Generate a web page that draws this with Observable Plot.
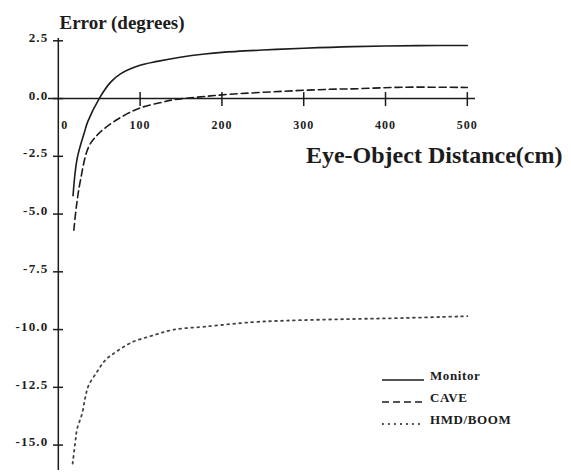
<!DOCTYPE html>
<html><head><meta charset="utf-8">
<script src="https://cdn.jsdelivr.net/npm/d3@7"></script>
<script src="https://cdn.jsdelivr.net/npm/@observablehq/plot@0.6"></script>
<style>
body{margin:0;background:#fff;}
#wrap{position:relative;width:571px;height:472px;}
#legend{position:absolute;left:0;top:0;pointer-events:none;}
#wrap svg g[aria-label="y-axis tick label"] text{letter-spacing:1.2px;}
#wrap svg g[aria-label="x-axis tick label"] text{letter-spacing:1px;}
</style></head><body><div id="wrap"></div>
<script>
// ---- data ----
const seriesNames = ["Monitor", "CAVE", "HMD/BOOM"];

const monitorDist = [18, 23, 32, 36, 50, 64, 76, 99, 121, 149, 179, 200, 250, 300, 360, 440, 500];
const monitorErr  = [-4.2, -2.6, -1.45, -1.0, 0, 0.71, 1.07, 1.43, 1.61, 1.79, 1.93, 2.0, 2.1, 2.18, 2.25, 2.29, 2.3];

const caveDist = [19, 22, 27, 37, 49, 70, 99, 127, 141, 182, 200, 250, 330, 360, 420, 500];
const caveErr  = [-5.7, -4.7, -3.55, -2.1, -1.53, -0.95, -0.42, -0.16, -0.05, 0.1, 0.16, 0.27, 0.4, 0.42, 0.49, 0.48];

const hmdDist = [17.5, 21, 23, 29, 33, 37, 47, 57, 70, 90, 115, 140, 180, 237, 280, 350, 420, 500];
const hmdErr  = [-15.8, -14.8, -14.3, -13.65, -12.93, -12.42, -11.85, -11.34, -10.98, -10.55, -10.26, -10.01, -9.87, -9.68, -9.61, -9.55, -9.5, -9.42];

const xTicks = [100, 200, 300, 400, 500];
const xZeroTick = [0];
const yTicks = [2.5, 0, -2.5, -5, -7.5, -10, -12.5, -15];
const titleText = "Error (degrees)";
const xLabelText = "Eye-Object Distance(cm)";

// ---- build table ----
const table = [];
[[monitorDist, monitorErr], [caveDist, caveErr], [hmdDist, hmdErr]].forEach(([ds, es], i) => {
  ds.forEach((d, j) => table.push({s: seriesNames[i], d, e: es[j]}));
});

// ---- layout ----
const W = 571, H = 472, mL = 48, mR = 96, mT = 38, mB = 2;
const xDomain = [-12, 510], yDomain = [-16.1, 2.6];
const yScale = Plot.scale({y: {domain: yDomain, range: [H - mB, mT]}});
const y0 = yScale.apply(0);
const yBottom = H - mB;
const ink = "#1c1c1c";
const serif = "'Liberation Serif', 'DejaVu Serif', serif";
const lineStyles = {
  "Monitor": {dash: "none", width: 1.6, color: ink},
  "CAVE": {dash: "7,4", width: 1.6, color: ink},
  "HMD/BOOM": {dash: "1.8,4.2", width: 1.8, color: "#444"}
};
const fmtY = d => (d < 0 ? "-" : "") + Math.abs(d).toFixed(1);

const lineMarks = seriesNames.map(s => Plot.line(table.filter(r => r.s === s), {
  x: "d", y: "e", curve: "catmull-rom",
  stroke: lineStyles[s].color, strokeWidth: lineStyles[s].width,
  strokeDasharray: lineStyles[s].dash
}));

const chart = Plot.plot({
  width: W, height: H,
  marginLeft: mL, marginRight: mR, marginTop: mT, marginBottom: mB,
  style: {fontFamily: serif, fontSize: "12px", fontWeight: "bold", background: "white", color: ink},
  x: {domain: xDomain},
  y: {domain: yDomain},
  marks: [
    Plot.ruleY([0], {stroke: ink, strokeWidth: 1.5}),
    Plot.ruleX([0], {stroke: ink, strokeWidth: 1.5}),
    // y ticks crossing the axis
    Plot.axisY({ticks: yTicks, tickSize: 10, dx: 15, tickFormat: () => "", label: null, stroke: ink, strokeWidth: 1.5}),
    // y labels
    Plot.axisY({ticks: yTicks, tickSize: 0, tickPadding: 0, dy: -3, tickFormat: fmtY, label: null, fontSize: 13, fill: ink}),
    // x ticks crossing the axis
    Plot.axisX({ticks: xTicks, anchor: "bottom", tickSize: 14, dy: (y0 - 6) - yBottom, tickFormat: () => "", label: null, stroke: ink, strokeWidth: 1.5}),
    // x labels
    Plot.axisX({ticks: xTicks, anchor: "bottom", tickSize: 0, tickPadding: 0, dy: (y0 + 22) - yBottom, tickFormat: d => String(d), label: null, fontSize: 12, fill: ink}),
    Plot.axisX({ticks: xZeroTick, anchor: "bottom", tickSize: 0, tickPadding: 0, dx: 3, dy: (y0 + 22) - yBottom, textAnchor: "start", tickFormat: d => String(d), label: null, fontSize: 12, fill: ink}),
    ...lineMarks,
    Plot.text([titleText], {frameAnchor: "top-left", text: d => d, textAnchor: "start", lineAnchor: "bottom", dx: 11, dy: -10, fontSize: 19, fill: ink}),
    Plot.text([xLabelText], {frameAnchor: "top-right", text: d => d, textAnchor: "end", lineAnchor: "middle", dx: 87, dy: 117, fontSize: 24, fill: ink})
  ]
});

const wrap = document.getElementById("wrap");
wrap.appendChild(chart);

// ---- legend overlay ----
const leg = d3.select(wrap).append("svg").attr("id", "legend").attr("width", W).attr("height", H);
seriesNames.forEach((s, i) => {
  const yy = 380 + i * 22;
  leg.append("line").attr("x1", 382).attr("x2", 424).attr("y1", yy).attr("y2", yy)
    .attr("stroke", lineStyles[s].color).attr("stroke-width", lineStyles[s].width)
    .attr("stroke-dasharray", lineStyles[s].dash);
  leg.append("text").attr("x", 430).attr("y", yy).text(s)
    .attr("font-family", serif).attr("font-weight", "bold").attr("font-size", 13)
    .attr("letter-spacing", "0.6px").attr("fill", ink);
});
</script></body></html>
